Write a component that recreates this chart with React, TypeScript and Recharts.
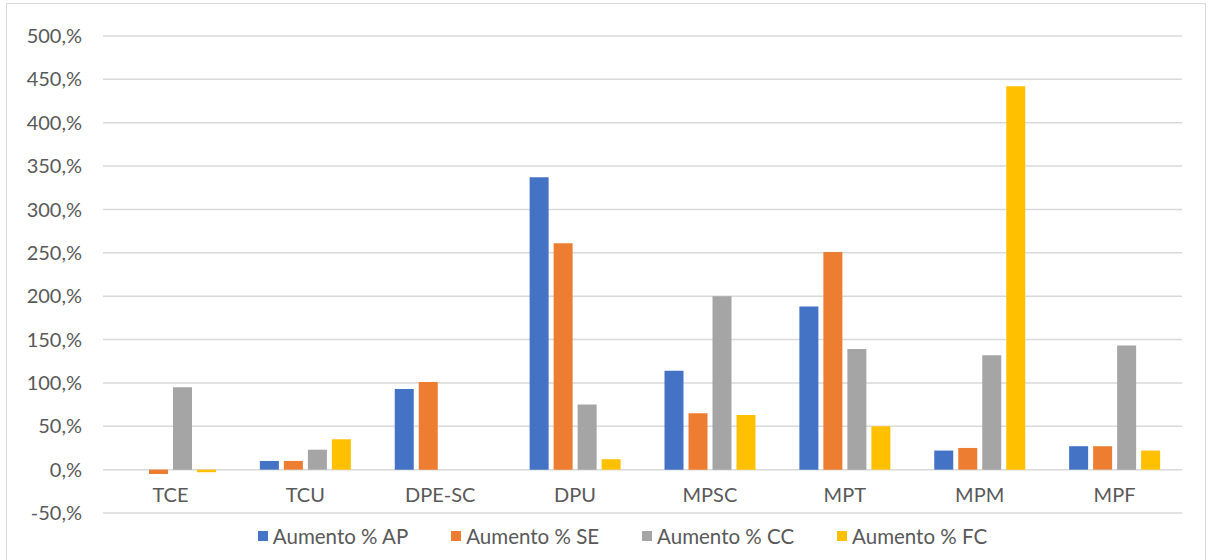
import React from 'react';
import { BarChart, Bar, XAxis, YAxis, CartesianGrid, Legend } from 'recharts';

const categories = ['TCE', 'TCU', 'DPE-SC', 'DPU', 'MPSC', 'MPT', 'MPM', 'MPF'];
const aumentoAP = [0, 10, 93, 337, 114, 188, 22, 27];
const aumentoSE = [-5, 10, 101, 261, 65, 251, 25, 27];
const aumentoCC = [95, 23, 0, 75, 200, 139, 132, 143];
const aumentoFC = [-3, 35, 0, 12, 63, 50, 442, 22];
const yTicks = [-50, 0, 50, 100, 150, 200, 250, 300, 350, 400, 450, 500];

const seriesNames = ['Aumento % AP', 'Aumento % SE', 'Aumento % CC', 'Aumento % FC'];
const seriesColors = ['#4472C4', '#ED7D31', '#A5A5A5', '#FFC000'];
const seriesKeys = ['ap', 'se', 'cc', 'fc'];

const data = categories.map((c, i) => ({
  name: c,
  ap: aumentoAP[i],
  se: aumentoSE[i],
  cc: aumentoCC[i],
  fc: aumentoFC[i],
}));

const FONT = 'Lato, "Open Sans", sans-serif';
const TEXT = '#595959';

const CatTick = (props: any) => {
  const { x, y, payload } = props;
  return (
    <text x={x} y={y - 16} textAnchor="middle" dominantBaseline="middle" fill={TEXT} fontSize={20} fontFamily={FONT}>
      {payload.value}
    </text>
  );
};

const LegendContent = () => (
  <div style={{ display: 'flex', justifyContent: 'center', alignItems: 'center', fontFamily: FONT, fontSize: 20.5, color: TEXT, paddingLeft: 36 }}>
    {seriesNames.map((n, i) => (
      <div key={n} style={{ display: 'flex', alignItems: 'center', marginRight: i < 3 ? 43 : 0 }}>
        <span style={{ display: 'inline-block', width: 10, height: 10, background: seriesColors[i], marginRight: 5 }} />
        <span>{n}</span>
      </div>
    ))}
  </div>
);

export default function App() {
  return (
    <div style={{ position: 'absolute', left: 0, top: 0, width: 1209, height: 560, background: '#fff', overflow: 'hidden' }}>
      <div style={{ position: 'absolute', left: 6, top: 3, width: 1200, height: 600, border: '1px solid #D9D9D9', boxSizing: 'border-box' }} />
      <div style={{ position: 'absolute', left: 0, top: 0 }}>
        <BarChart
          width={1209}
          height={560}
          data={data}
          margin={{ top: 36, right: 27, bottom: 17, left: 0 }}
          barCategoryGap={22}
          barGap={5}
        >
          <CartesianGrid vertical={false} stroke="#D9D9D9" strokeWidth={1.5} />
          <XAxis
            dataKey="name"
            height={30}
            axisLine={false}
            tickLine={false}
            tickSize={0}
            tickMargin={0}
            tick={<CatTick />}
            interval={0}
          />
          <YAxis
            width={103}
            domain={[-50, 500]}
            ticks={yTicks}
            interval={0}
            axisLine={false}
            tickLine={false}
            tickMargin={15}
            tickFormatter={(v: number) => `${v},%`}
            tick={{ fill: TEXT, fontSize: 20, fontFamily: FONT }}
          />
          <Legend
            layout="horizontal"
            verticalAlign="middle"
            align="center"
            content={<LegendContent />}
            wrapperStyle={{ left: 0, top: 524, width: 1209 }}
          />
          {seriesKeys.map((k, i) => (
            <Bar key={k} dataKey={k} name={seriesNames[i]} fill={seriesColors[i]} isAnimationActive={false} />
          ))}
        </BarChart>
      </div>
    </div>
  );
}
